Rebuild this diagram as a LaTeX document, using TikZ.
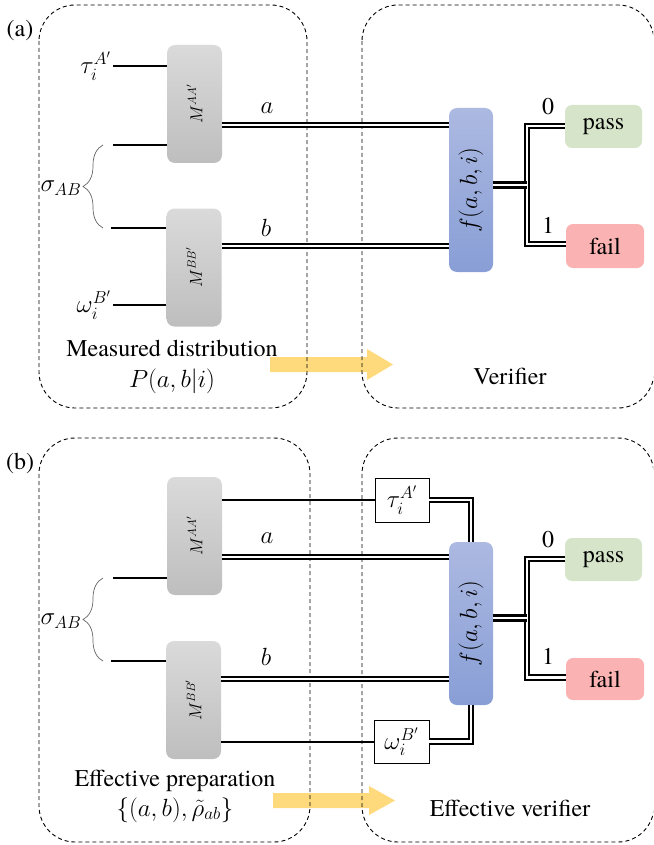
\documentclass[tikz,border=0pt]{standalone}
\usepackage{fontspec}
\setmainfont{TeX Gyre Termes}
\usetikzlibrary{decorations.pathreplacing}
\definecolor{mgtop}{RGB}{218,218,218}
\definecolor{mgbot}{RGB}{190,190,190}
\definecolor{ftop}{RGB}{172,185,225}
\definecolor{fbot}{RGB}{136,158,214}
\definecolor{passc}{RGB}{214,229,201}
\definecolor{failc}{RGB}{250,178,178}
\definecolor{arrc}{RGB}{255,218,125}
\begin{document}
\begin{tikzpicture}[x=1pt,y=-1pt,
  big/.style={font=\fontsize{24}{28}\selectfont},
  mlab/.style={font=\fontsize{18}{20}\selectfont, rotate=90},
  mbox/.style={draw=none, rounded corners=8pt, top color=mgtop, bottom color=mgbot, minimum width=55pt, minimum height=118pt, inner sep=0pt},
  fnode/.style={draw=none, rounded corners=8pt, top color=ftop, bottom color=fbot, minimum width=44pt, minimum height=164pt, inner sep=0pt},
  flab/.style={font=\fontsize{25}{28}\selectfont, rotate=90},
  resbox/.style={draw=none, rounded corners=7pt, minimum width=77pt, minimum height=43pt, inner sep=0pt, font=\fontsize{24}{28}\selectfont},
  wbox/.style={draw, line width=0.9pt, fill=white, minimum width=54pt, minimum height=44pt, inner sep=0pt, font=\fontsize{24}{28}\selectfont},
  qline/.style={line width=2.8pt},
  tline/.style={line width=2pt},
  dbl/.style={double=white, double distance=2.2pt, line width=2.2pt},
  dblk/.style={double=white, double distance=1.2pt, line width=3pt},
  dbox/.style={dash pattern=on 4pt off 3pt, line width=0.9pt, rounded corners=36pt},
  brc/.style={decorate, decoration={brace, amplitude=20pt}, draw=black!60, line width=0.7pt},
  yarrow/.style={fill=arrc}
]
\useasboundingbox (0,0) rectangle (653,845);
\clip (0,0) rectangle (653,845);

% ---------------- panel (a) ----------------
\fill[yarrow] (270,357) -- (367,357) -- (367,349) -- (393,364.5) -- (367,380) -- (367,372) -- (270,372) -- cycle;
\draw[dbox] (39,5) rectangle (307,408);
\draw[dbox] (362,5) rectangle (654,408);
\node[big] (labA) at (20,31) {(a)};

\node[mbox] (MAa) at (194.5,104) {};
\node[mlab] (MAaL) at (MAa.center) {$M^{AA'}$};
\node[mbox] (MBa) at (194,267.5) {};
\node[mlab] (MBaL) at (MBa.center) {$M^{BB'}$};
\node[fnode] (fa) at (471,190) {};
\node[flab] (faL) at (fa.center) {$f(a,b,i)$};
\node[resbox, fill=passc] (passa) at (603.5,126.5) {pass};
\node[resbox, fill=failc, minimum width=78pt, minimum height=44pt] (faila) at (605,246) {fail};

\coordinate (ta) at (113,66);
\coordinate (sa1) at (113,145);
\coordinate (sb1) at (111,228);
\coordinate (wa) at (113,305);
\node[big, anchor=east, inner sep=1pt] (tauLa) at (112,66) {$\tau_i^{A'}$};
\node[big, anchor=east, inner sep=1pt] (omLa) at (112,305) {$\omega_i^{B'}$};
\draw[qline] (ta) -- (ta -| MAa.west);
\draw[qline] (sa1) -- (sa1 -| MAa.west);
\draw[qline] (sb1) -- (sb1 -| MBa.west);
\draw[qline] (wa) -- (wa -| MBa.west);
\coordinate (bra1) at (103,228);
\coordinate (bra2) at (103,145);
\draw[brc] (bra1) -- (bra2);
\node[big] (sigA) at (61,188) {$\sigma_{AB}$};

\coordinate (aa) at (222,125);
\coordinate (ba) at (222,246);
\draw[dbl] (aa -| MAa.east) -- (aa -| fa.west);
\draw[dbl] (ba -| MBa.east) -- (ba -| fa.west);
\node[big] (alabA) at (267,108) {$a$};
\node[big] (blabA) at (266,228) {$b$};

\coordinate (jA) at (527,185);
\coordinate (jAt) at (527,126);
\coordinate (jAb) at (527,244);
\draw[dbl] (jAt -| passa.west) -- (jAt) -- (jAb) -- (jAb -| faila.west);
\draw[dblk] (jA -| fa.east) -- (jA);
\node[big] (zeroA) at (548,107) {0};
\node[big] (oneA) at (548,225) {1};

\node[big, inner sep=0pt] (measA) at (172,348) {Measured distribution};
\node[big, inner sep=0pt] (measA2) at (172,381) {$P(a,b|i)$};
\node[big] (verA) at (510,376) {Verifier};

% ---------------- panel (b) ----------------
\fill[yarrow] (273,793) -- (369,793) -- (369,786) -- (395,800.5) -- (369,815) -- (369,808) -- (273,808) -- cycle;
\draw[dbox] (39,438) rectangle (310,842);
\draw[dbox] (362,438) rectangle (654,842);
\node[big] (labB) at (20,463) {(b)};

\node[mbox] (MAb) at (194.5,536) {};
\node[mlab] (MAbL) at (MAb.center) {$M^{AA'}$};
\node[mbox] (MBb) at (193.5,700) {};
\node[mlab] (MBbL) at (MBb.center) {$M^{BB'}$};
\node[fnode, minimum height=163pt] (fb) at (471,623.5) {};
\node[flab] (fbL) at (fb.center) {$f(a,b,i)$};
\node[resbox, fill=passc] (passb) at (603.5,559.5) {pass};
\node[resbox, fill=failc, minimum width=78pt, minimum height=42pt] (failb) at (605,679) {fail};

\node[wbox] (taub) at (402,500) {$\tau_i^{A'}$};
\node[wbox, minimum width=55pt, minimum height=43pt] (omb) at (401.5,741.5) {$\omega_i^{B'}$};

\draw[tline] (taub.west -| MAb.east) -- (taub.west);
\draw[tline] (omb.west -| MBb.east) -- (omb.west);
\draw[dbl] (taub.east) -| (fb.north);
\draw[dbl] (omb.east) -| (fb.south);

\coordinate (sa2) at (113,578);
\coordinate (sb2) at (111,661);
\draw[qline] (sa2) -- (sa2 -| MAb.west);
\draw[qline] (sb2) -- (sb2 -| MBb.west);
\coordinate (brb1) at (103,661);
\coordinate (brb2) at (103,578);
\draw[brc] (brb1) -- (brb2);
\node[big] (sigB) at (61,621) {$\sigma_{AB}$};

\coordinate (ab) at (222,557);
\coordinate (bb) at (222,679);
\draw[dbl] (ab -| MAb.east) -- (ab -| fb.west);
\draw[dbl] (bb -| MBb.east) -- (bb -| fb.west);
\node[big] (alabB) at (267,538) {$a$};
\node[big] (blabB) at (266,657) {$b$};

\coordinate (jB) at (527,618);
\coordinate (jBt) at (527,559);
\coordinate (jBb) at (527,677.5);
\draw[dbl] (jBt -| passb.west) -- (jBt) -- (jBb) -- (jBb -| failb.west);
\draw[dblk] (jB -| fb.east) -- (jB);
\node[big] (zeroB) at (548,540) {0};
\node[big] (oneB) at (548,656) {1};

\node[big, inner sep=0pt] (effP) at (175,781) {Effective preparation};
\node[big, inner sep=0pt] (effP2) at (175,810) {$\{(a,b),\tilde{\rho}_{ab}\}$};
\node[big] (effV) at (510,808) {Effective verifier};
\end{tikzpicture}
\end{document}
